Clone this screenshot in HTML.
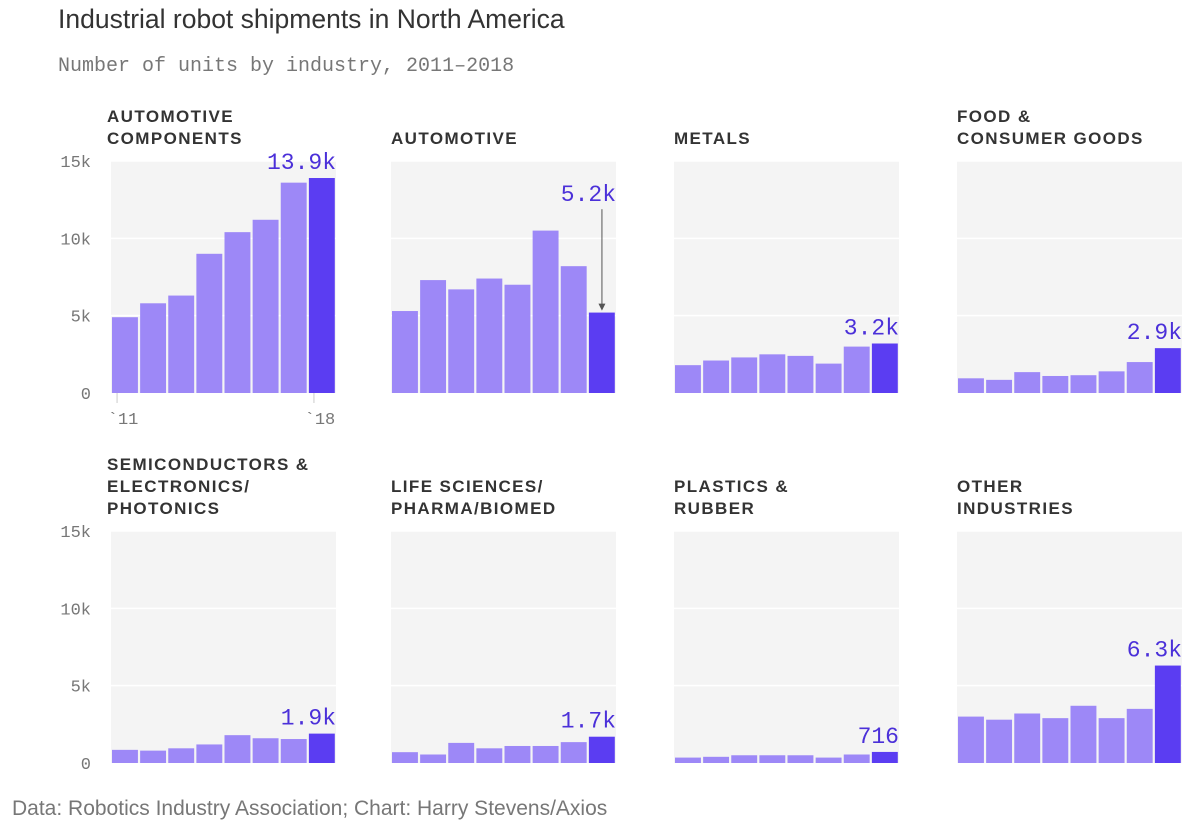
<!DOCTYPE html>
<html><head><meta charset="utf-8"><style>
body{margin:0;width:1200px;height:832px;background:#fff;overflow:hidden;font-family:"Liberation Sans",sans-serif}
svg{display:block}
</style></head><body>
<svg width="1200" height="832">
<text x="58" y="28" font-size="26.5" fill="#333" font-family="Liberation Sans">Industrial robot shipments in North America</text>
<text x="58" y="71" font-size="20" fill="#777" font-family="Liberation Mono">Number of units by industry, 2011–2018</text>
<g id="panels"></g>
<text x="12" y="815" font-size="21" fill="#777">Data: Robotics Industry Association; Chart: Harry Stevens/Axios</text>
</svg>
<script>
const industries=[["AUTOMOTIVE","COMPONENTS"],["AUTOMOTIVE"],["METALS"],["FOOD &","CONSUMER GOODS"],["SEMICONDUCTORS &","ELECTRONICS/","PHOTONICS"],["LIFE SCIENCES/","PHARMA/BIOMED"],["PLASTICS &","RUBBER"],["OTHER","INDUSTRIES"]];
const s0=[4900,5800,6300,9000,10400,11200,13600,13900];
const s1=[5300,7300,6700,7400,7000,10500,8200,5200];
const s2=[1800,2100,2300,2500,2400,1900,3000,3200];
const s3=[950,850,1350,1100,1150,1400,2000,2900];
const s4=[850,800,950,1200,1800,1600,1550,1900];
const s5=[700,550,1300,950,1100,1100,1350,1700];
const s6=[350,400,500,500,500,350,550,716];
const s7=[3000,2800,3200,2900,3700,2900,3500,6300];
const series=[s0,s1,s2,s3,s4,s5,s6,s7];
const endLabels=["13.9k","5.2k","3.2k","2.9k","1.9k","1.7k","716","6.3k"];
const yTicks=[0,5000,10000,15000];
const yTickLabels=["0","5k","10k","15k"];
const yearLabels=["`11","`18"];
const NS="http://www.w3.org/2000/svg";
const g=document.getElementById('panels');
function mk(t,a,p){const e=document.createElementNS(NS,t);for(const k in a)e.setAttribute(k,a[k]);(p||g).appendChild(e);return e;}
const colX=[111,391,674,957],rowZero=[393,763],W=225,H=232,maxV=15000;
series.forEach((vals,i)=>{
 const x0=colX[i%4],z=rowZero[Math.floor(i/4)];
 const y=v=>z-v/maxV*H;
 const pg=mk('g',{});
 
 
 const bg=mk('rect',{x:x0,y:z-H,width:W,height:H,fill:'#f4f4f4'},pg);
 
 
 yTicks.forEach((t,k)=>{if(k>0){const l=mk('line',{x1:x0,x2:x0+W,y1:y(t),y2:y(t),stroke:'#fff','stroke-width':1.5},pg);
  
  }
  if(i%4===0){const tx=mk('text',{x:91,y:y(t)+6,'font-size':17,fill:'#777','text-anchor':'end','font-family':'Liberation Mono'},pg);tx.textContent=yTickLabels[k];
  
  }
 });
 const lines=industries[i];
 const tx0=(i%4===0)?x0-4:x0;
 lines.forEach((ln,k)=>{const t=mk('text',{x:tx0,y:z-H-17-(lines.length-1-k)*22,'font-size':17,fill:'#333','letter-spacing':'1.4','font-weight':'bold'},pg);t.textContent=ln;
  
  });
 const step=W/vals.length;
 vals.forEach((v,j)=>{const r=mk('rect',{x:x0+j*step+1,y:y(v),width:step-2.2,height:z-y(v),fill:j===vals.length-1?'#5b3df2':'#9d88f7'},pg);
  
  });
 const lastX=x0+7*step+step/2;
 const lt=mk('text',{x:x0+W,y:i===1?y(12400):y(vals[7])-9,'font-size':23,fill:'#4b30d9','text-anchor':'end','font-family':'Liberation Mono'},pg);lt.textContent=endLabels[i];
 
 
 if(i===1){const a=mk('line',{x1:lastX,x2:lastX,y1:y(12400)+8,y2:y(vals[7])-6,stroke:'#555','stroke-width':1},pg);
  
  
  const h=mk('path',{d:`M${lastX-3.5} ${y(vals[7])-9} L${lastX+3.5} ${y(vals[7])-9} L${lastX} ${y(vals[7])-2}Z`,fill:'#555'},pg);
  
  }
 if(i===0){[0,7].forEach((j,k)=>{const cx=x0+j*step+step/2-8;
  const tk=mk('line',{x1:cx,x2:cx,y1:z,y2:z+10,stroke:'#ccc'},pg);
  
  
  const t=mk('text',{x:cx+6,y:z+31,'font-size':17,fill:'#777','text-anchor':'middle','font-family':'Liberation Mono'},pg);t.textContent=yearLabels[k];
  
  });}
});
</script>
</body></html>
